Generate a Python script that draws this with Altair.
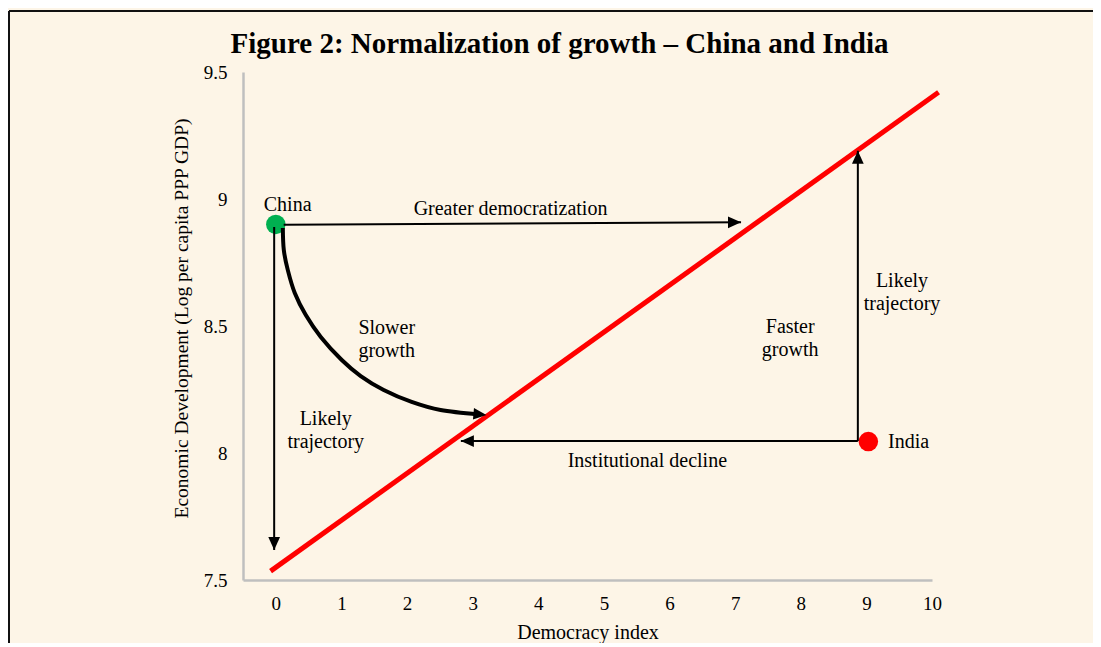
import altair as alt
import pandas as pd

# ---------------- data ----------------
trend_x = [-0.08, 10.1]
trend_y = [7.535, 9.42]

country_names = ["China", "India"]
country_x = [0.0, 9.03]
country_y = [8.90, 8.045]
country_colors = ["#00B050", "#FF0000"]

arrow_ids = ["democratization", "china_down", "decline", "india_up"]
arrow_x0 = [0.12, -0.025, 8.87, 8.87]
arrow_y0 = [8.899, 8.89, 8.047, 8.047]
arrow_x1 = [7.09, -0.025, 2.82, 8.87]
arrow_y1 = [8.908, 7.618, 8.047, 9.19]
arrow_heading = [0, 90, 180, 270]

curve_x = [0.107, 0.122, 0.183, 0.289, 0.457, 0.685, 1.005, 1.294, 1.644, 2.070, 2.511, 3.090]
curve_y = [8.886, 8.799, 8.720, 8.630, 8.543, 8.457, 8.366, 8.303, 8.248, 8.201, 8.169, 8.152]
curve_tip_x = [3.21]
curve_tip_y = [8.150]
curve_heading = [5]

# y of each label = centre of its first line
label_texts = ["China", "Greater democratization", "Slower\ngrowth", "Likely\ntrajectory",
               "Institutional decline", "Faster\ngrowth", "Likely\ntrajectory"]
label_x = [0.18, 3.577, 1.69, 0.761, 5.662, 7.839, 9.543]
label_y = [8.976, 8.961, 8.492, 8.134, 7.968, 8.496, 8.677]

india_label = ["India"]
india_label_x = [9.33]
india_label_y = [8.043]

x_ticks = list(range(0, 11))
y_ticks = [7.5, 8, 8.5, 9, 9.5]

# ---------------- styling ----------------
SERIF = "Liberation Serif"
BG = "#FDF5E7"
AX = "#BFBFBF"
FS = 20
xdom = [-0.5, 10]
ydom = [7.5, 9.5]

xs = alt.Scale(domain=xdom, nice=False, zero=False)
ys = alt.Scale(domain=ydom, nice=False, zero=False)

x_axis = alt.Axis(values=x_ticks, title="Democracy index", grid=False, ticks=False, tickSize=0,
                  domainColor=AX, domainWidth=2.5, labelFont=SERIF, labelFontSize=19,
                  labelColor="black", labelPadding=14, titleFont=SERIF, titleFontSize=FS,
                  titleFontWeight="normal", titleColor="black", titlePadding=9, labelFlush=False)
y_axis = alt.Axis(values=y_ticks, format="~g", title="Economic Development (Log per capita PPP GDP)",
                  grid=False, ticks=False, tickSize=0, domainColor=AX, domainWidth=2.5,
                  labelFont=SERIF, labelFontSize=19, labelColor="black", labelPadding=16,
                  titleFont=SERIF, titleFontSize=19.5, titleFontWeight="normal", titleColor="black",
                  titlePadding=12, titleY=246, labelFlush=False)

X = alt.X("x:Q", scale=xs, axis=x_axis)
Y = alt.Y("y:Q", scale=ys, axis=y_axis)

trend_df = pd.DataFrame({"x": trend_x, "y": trend_y})
trend = alt.Chart(trend_df).mark_line(color="#FF0000", strokeWidth=5, strokeCap="butt").encode(x=X, y=Y)

pts_df = pd.DataFrame({"name": country_names, "x": country_x, "y": country_y, "c": country_colors})
points = alt.Chart(pts_df).mark_point(filled=True, size=380, opacity=1, shape="circle").encode(
    x=X, y=Y, color=alt.Color("c:N", scale=None),
)

rows = []
for i, a in enumerate(arrow_ids):
    rows.append({"id": a, "o": 0, "x": arrow_x0[i], "y": arrow_y0[i]})
    rows.append({"id": a, "o": 1, "x": arrow_x1[i], "y": arrow_y1[i]})
seg_df = pd.DataFrame(rows)
segs = alt.Chart(seg_df).mark_line(color="black", strokeWidth=2).encode(
    x=X, y=Y, detail="id:N", order="o:Q",
)

ARROW = "M0,0 L-2,-0.9 L-2,0.9 Z"
heads_df = pd.DataFrame({"x": arrow_x1 + curve_tip_x, "y": arrow_y1 + curve_tip_y,
                         "a": arrow_heading + curve_heading})
heads = alt.Chart(heads_df).mark_point(shape=ARROW, filled=True, color="black", size=170,
                                       opacity=1, strokeWidth=0).encode(
    x=X, y=Y, angle=alt.Angle("a:Q", scale=None),
)

curve_df = pd.DataFrame({"x": curve_x, "y": curve_y, "o": list(range(len(curve_x)))})
curve = alt.Chart(curve_df).mark_line(color="black", strokeWidth=4, interpolate="cardinal").encode(
    x=X, y=Y, order="o:Q",
)

lab_df = pd.DataFrame({"t": label_texts, "x": label_x, "y": label_y})
labels = alt.Chart(lab_df).mark_text(font=SERIF, fontSize=FS, color="black", lineBreak="\n",
                                     lineHeight=23, align="center", baseline="middle").encode(
    x=X, y=Y, text="t:N",
)

india_df = pd.DataFrame({"t": india_label, "x": india_label_x, "y": india_label_y})
india = alt.Chart(india_df).mark_text(font=SERIF, fontSize=FS, color="black", align="left",
                                      baseline="middle").encode(
    x=X, y=Y, text="t:N",
)

frame_df = pd.DataFrame({"k": [0]})
top_border = alt.Chart(frame_df).mark_rule(color="#111111", strokeWidth=2).encode(
    x=alt.value(-234), x2=alt.value(900), y=alt.value(-61))
left_border = alt.Chart(frame_df).mark_rule(color="#111111", strokeWidth=2).encode(
    x=alt.value(-234), y=alt.value(-61), y2=alt.value(620))

chart = alt.layer(
    trend, top_border, left_border, points, segs, curve, heads, labels, india
).properties(
    width=689,
    height=508,
    autosize="none",
    padding={"left": 235, "top": 64, "right": 161, "bottom": 63},
    background=BG,
    title=alt.TitleParams(
        "Figure 2: Normalization of growth – China and India",
        font=SERIF, fontSize=29, fontWeight="bold", color="black",
        anchor="middle", frame="group", dx=-28, offset=8, baseline="alphabetic", dy=80,
    ),
).configure_view(stroke=None)

chart.save("out.html", embed_options={"renderer": "svg", "actions": False})
